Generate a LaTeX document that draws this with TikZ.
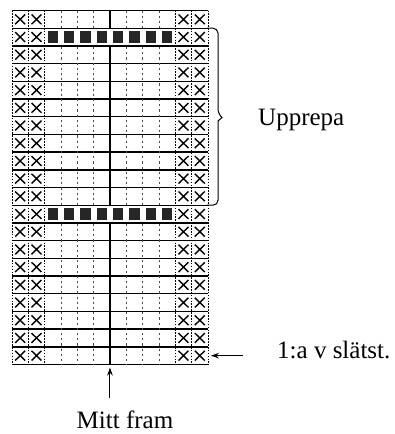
\documentclass[tikz,border=0pt]{standalone}
\usepackage{fontspec}
\setmainfont{Liberation Serif}
\usetikzlibrary{arrows.meta, positioning, calc}

\tikzset{
    rowline/.style={line width=1.4pt},
    edgedots/.style={line width=0.8pt, dash pattern=on 1.6pt off 1.3pt},
    middots/.style={line width=0.7pt, dash pattern=on 2.2pt off 3pt, black!70},
    centerline/.style={line width=1.1pt},
    crossmark/.style={line width=1.4pt},
    blacksq/.style={fill=black!85, draw=none},
    lbl/.style={font=\fontsize{25}{30}\selectfont, inner sep=0pt},
    pointer/.style={-{Stealth[length=8pt,width=5.5pt]}, line width=1pt},
    bracket/.style={line width=1pt, rounded corners=5pt},
}

\begin{document}
\begin{tikzpicture}[x=1pt, y=-1pt]
    \useasboundingbox (0,0) rectangle (394,434);
    \def\gx{12} \def\gy{10.5} \def\cw{16.33} \def\ch{17.7}

    % Row lines
    \foreach \r in {0,...,20}
        \draw[rowline] (\gx,\gy+\r*\ch) -- (\gx+12*\cw,\gy+\r*\ch);

    % Column lines
    \foreach \c in {0,1,2,10,11,12}
        \draw[edgedots] (\gx+\c*\cw,\gy) -- (\gx+\c*\cw,\gy+20*\ch);
    \foreach \c in {3,4,5,7,8,9}
        \draw[middots] (\gx+\c*\cw,\gy) -- (\gx+\c*\cw,\gy+20*\ch);
    \draw[centerline] (\gx+6*\cw,\gy) -- (\gx+6*\cw,\gy+20*\ch)
        coordinate (midbot);

    % Purl rows
    \foreach \r in {1,11} {
        \fill[white] (\gx+2*\cw+0.5,\gy+\r*\ch+0.9) rectangle (\gx+10*\cw-0.5,\gy+\r*\ch+\ch-0.9);
        \foreach \c in {2,...,9}
            \fill[blacksq] (\gx+\c*\cw+3,\gy+\r*\ch+3) rectangle (\gx+\c*\cw+\cw-3,\gy+\r*\ch+\ch-3);
    }

    % Edge stitches
    \foreach \r in {0,...,19}
        \foreach \c in {0,1,10,11}
            \draw[crossmark] (\gx+\c*\cw+3.2,\gy+\r*\ch+4) -- (\gx+\c*\cw+\cw-3.2,\gy+\r*\ch+\ch-4)
                             (\gx+\c*\cw+3.2,\gy+\r*\ch+\ch-4) -- (\gx+\c*\cw+\cw-3.2,\gy+\r*\ch+4);

    % Repeat bracket
    \draw[bracket] (\gx+12*\cw-1,\gy+\ch) -- (218,\gy+\ch) -- (218,114)
        [rounded corners=0pt] -- (222,117.5) -- (218,121)
        [rounded corners=5pt] -- (218,\gy+11*\ch) -- (\gx+12*\cw-1,\gy+11*\ch);
    \node[lbl, anchor=base west] (upprepa) at (258,125) {Upprepa};

    % First row
    \coordinate (rowhead) at (\gx+12*\cw+3,\gy+19.5*\ch);
    \coordinate (rowtail) at (243,\gy+19.5*\ch);
    \draw[pointer] (rowtail) -- (rowhead);
    \node[lbl, anchor=base west] (slatst) at (277,358) {1:a v slätst.};

    % Centre front
    \coordinate (midtail) at ($(midbot)+(0,33)$);
    \draw[pointer] (midtail) -- ($(midbot)+(0,3)$);
    \node[lbl, anchor=base] (mitt) at (125,428) {Mitt fram};
\end{tikzpicture}
\end{document}
